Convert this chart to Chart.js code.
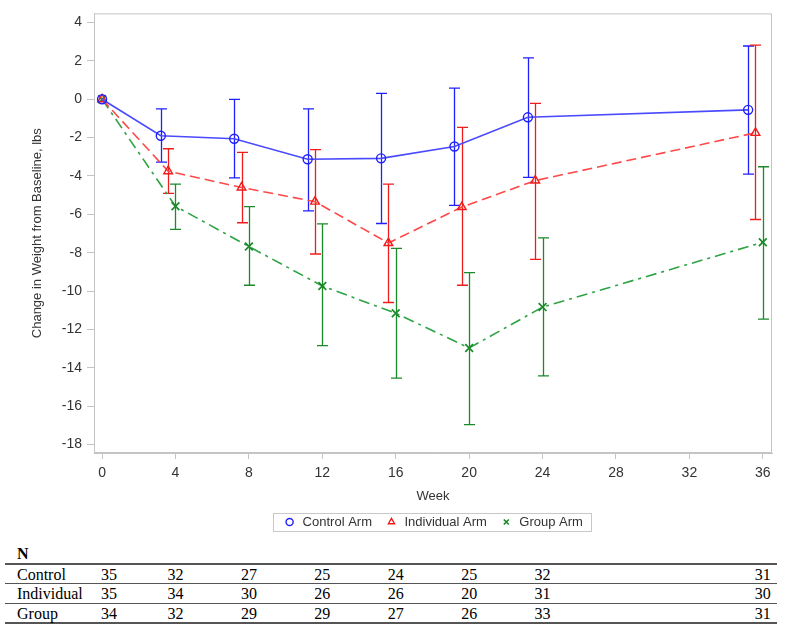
<!DOCTYPE html>
<html>
<head>
<meta charset="utf-8">
<script src="https://cdn.jsdelivr.net/npm/chart.js@4.4.1/dist/chart.umd.min.js"></script>
<style>
  body { margin: 0; background: #fff; }
  #wrap { position: relative; width: 789px; height: 631px; overflow: hidden; }
  #chart { position: absolute; left: 0; top: 0; }
  .nt { position: absolute; font-family: "Liberation Serif", "Times New Roman", serif; font-size: 16px; color: #000; line-height: 18px; white-space: nowrap; }
  .rule { position: absolute; left: 5px; width: 772px; background: #555; }
</style>
</head>
<body>
<div id="wrap">
  <canvas id="chart" width="789" height="540"></canvas>
  <div id="ntable"></div>
</div>
<script>
// ---- data ----
const xTicks = [0, 4, 8, 12, 16, 20, 24, 28, 32, 36];
const yTicks = [-18, -16, -14, -12, -10, -8, -6, -4, -2, 0, 2, 4];

// arms are drawn slightly staggered around each visit week
const controlWeek = [0, 3.2, 7.2, 11.2, 15.2, 19.2, 23.2, 35.2];
const controlMean = [0, -1.9, -2.06, -3.13, -3.08, -2.46, -0.94, -0.55];
const controlLow  = [null, -3.28, -4.1, -5.82, -6.48, -5.53, -4.07, -3.9];
const controlHigh = [null, -0.5, 0.0, -0.5, 0.31, 0.58, 2.16, 2.78];

const indivWeek = [0, 3.6, 7.6, 11.6, 15.6, 19.6, 23.6, 35.6];
const indivMean = [0, -3.75, -4.6, -5.34, -7.5, -5.62, -4.24, -1.75];
const indivLow  = [null, -4.91, -6.44, -8.07, -10.6, -9.7, -8.35, -6.27];
const indivHigh = [null, -2.58, -2.77, -2.63, -4.42, -1.46, -0.21, 2.83];

const groupWeek = [0, 4, 8, 12, 16, 20, 24, 36];
const groupMean = [0, -5.58, -7.68, -9.74, -11.16, -12.97, -10.84, -7.46];
const groupLow  = [null, -6.79, -9.7, -12.85, -14.54, -16.97, -14.43, -11.47];
const groupHigh = [null, -4.42, -5.6, -6.5, -7.78, -9.04, -7.23, -3.52];

// N at risk table
const nWeeks = [0, 4, 8, 12, 16, 20, 24, 36];
const nRowLabels = ['Control', 'Individual', 'Group'];
const nControl = [35, 32, 27, 25, 24, 25, 32, 31];
const nIndiv   = [35, 34, 30, 26, 26, 20, 31, 30];
const nGroup   = [34, 32, 29, 29, 27, 26, 33, 31];

const FONT = '"Liberation Sans", Arial, sans-serif';
const TXT = '#333';
const FRAME = '#c4c4c4';

const BLUE = '#2020ff', RED = '#f01c1c', GREEN = '#1a8a2a';

const toPts = (xs, ys) => xs.map((x, i) => ({ x, y: ys[i] }));

const errorSets = [
  { x: controlWeek, lo: controlLow, hi: controlHigh, color: BLUE },
  { x: indivWeek, lo: indivLow, hi: indivHigh, color: RED },
  { x: groupWeek, lo: groupLow, hi: groupHigh, color: GREEN },
];

const frameAndBars = {
  id: 'frameAndBars',
  beforeDatasetsDraw(chart) {
    const { ctx, chartArea: a, scales: { x, y } } = chart;
    ctx.save();
    ctx.strokeStyle = FRAME;
    ctx.lineWidth = 1;
    ctx.strokeRect(a.left + 0.5, a.top + 0.5, a.right - a.left - 1, a.bottom - a.top - 1);
    // error bars with caps
    errorSets.forEach(s => {
      ctx.strokeStyle = s.color;
      ctx.lineWidth = 1.3;
      s.x.forEach((wk, i) => {
        if (s.lo[i] == null) return;
        const px = Math.round(x.getPixelForValue(wk)) + 0.5;
        const p1 = y.getPixelForValue(s.lo[i]);
        const p2 = y.getPixelForValue(s.hi[i]);
        ctx.beginPath();
        ctx.moveTo(px, p1); ctx.lineTo(px, p2);
        ctx.moveTo(px - 5.5, p1); ctx.lineTo(px + 5.5, p1);
        ctx.moveTo(px - 5.5, p2); ctx.lineTo(px + 5.5, p2);
        ctx.stroke();
      });
    });
    ctx.restore();
  },
  afterDraw(chart) {
    // SAS-style box round the legend
    const boxes = chart.legend && chart.legend.legendHitBoxes;
    if (!boxes || !boxes.length) return;
    const left = Math.min(...boxes.map(b => b.left));
    const right = Math.max(...boxes.map(b => b.left + b.width));
    const mid = boxes[0].top + boxes[0].height / 2;
    const { ctx } = chart;
    ctx.save();
    ctx.strokeStyle = '#c8c8c8';
    ctx.lineWidth = 1;
    ctx.strokeRect(Math.round(left - 10) + 0.5, Math.round(mid - 9) + 0.5, Math.round(right - left + 18), 18);
    ctx.restore();
  }
};

const chart = new Chart(document.getElementById('chart').getContext('2d'), {
  type: 'line',
  data: {
    datasets: [
      {
        label: 'Control Arm',
        data: toPts(controlWeek, controlMean),
        borderColor: '#4a4aff',
        borderWidth: 1.6,
        pointStyle: 'circle',
        pointRadius: 4.5,
        pointBorderColor: BLUE,
        pointBackgroundColor: 'rgba(0,0,0,0)',
        pointBorderWidth: 1.4,
        tension: 0,
      },
      {
        label: 'Individual Arm',
        data: toPts(indivWeek, indivMean),
        borderColor: '#ff4848',
        borderWidth: 1.6,
        borderDash: [10, 5],
        pointStyle: 'triangle',
        pointRadius: 5,
        pointBorderColor: RED,
        pointBackgroundColor: 'rgba(0,0,0,0)',
        pointBorderWidth: 1.4,
        tension: 0,
      },
      {
        label: 'Group Arm',
        data: toPts(groupWeek, groupMean),
        borderColor: '#2fa345',
        borderWidth: 1.6,
        borderDash: [11, 5, 3, 5],
        pointStyle: 'crossRot',
        pointRadius: 5.5,
        pointBorderColor: GREEN,
        pointBackgroundColor: 'rgba(0,0,0,0)',
        pointBorderWidth: 1.7,
        tension: 0,
      },
    ]
  },
  options: {
    responsive: false,
    animation: false,
    layout: { padding: { left: 0, top: 8, right: 17, bottom: 1.5 } },
    plugins: {
      tooltip: { enabled: false },
      legend: {
        position: 'bottom',
        fullSize: false,
        labels: {
          usePointStyle: true,
          boxWidth: 13,
          boxHeight: 5,
          padding: 13,
          color: TXT,
          font: { family: FONT, size: 13 },
        }
      }
    },
    scales: {
      x: {
        type: 'linear',
        min: -0.44,
        max: 36.5,
        afterBuildTicks: s => { s.ticks = xTicks.map(v => ({ value: v })); },
        afterFit: s => { s.height = 49.5; },
        grid: { drawOnChartArea: false, drawTicks: true, tickLength: 6, color: FRAME },
        border: { color: FRAME },
        ticks: { color: TXT, font: { family: FONT, size: 14 }, padding: 6, maxRotation: 0, autoSkip: false },
        title: { display: true, text: 'Week', color: TXT, font: { family: FONT, size: 13, lineHeight: 1 }, padding: { top: 0, bottom: 0 } },
      },
      y: {
        min: -18.45,
        max: 4.48,
        afterBuildTicks: s => { s.ticks = yTicks.map(v => ({ value: v })); },
        afterFit: s => { s.width = 94; },
        grid: { drawOnChartArea: false, drawTicks: true, tickLength: 7, color: FRAME },
        border: { color: FRAME },
        ticks: { color: TXT, font: { family: FONT, size: 14 }, padding: 5, autoSkip: false },
        title: { display: true, text: 'Change in Weight from Baseline, lbs', color: TXT, font: { family: FONT, size: 13 }, padding: { top: 30, bottom: 0 } },
      }
    }
  },
  plugins: [frameAndBars]
});

// ---- N table under the plot, columns lined up with the week axis ----
(function buildTable() {
  const host = document.getElementById('ntable');
  const xs = chart.scales.x;
  const add = (html, style, cls) => {
    const d = document.createElement('div');
    d.className = cls;
    d.innerHTML = html;
    Object.assign(d.style, style);
    host.appendChild(d);
    return d;
  };
  add('<b>N</b>', { left: '17px', top: '545px' }, 'nt');
  [[563, 2], [583, 1], [603, 1], [622, 2]].forEach(([y, h]) => add('', { top: y + 'px', height: h + 'px' }, 'rule'));
  const rows = [nControl, nIndiv, nGroup];
  const rowY = [565.5, 585, 604.5];
  rows.forEach((vals, r) => {
    add(nRowLabels[r], { left: '17px', top: rowY[r] + 'px' }, 'nt');
    vals.forEach((v, i) => {
      // first column sits just right of the row-label column
      const cx = Math.max(xs.getPixelForValue(nWeeks[i]), 109);
      const d = add(String(v), { top: rowY[r] + 'px' }, 'nt');
      d.style.left = (cx - d.offsetWidth / 2) + 'px';
    });
  });
})();
</script>
</body>
</html>
